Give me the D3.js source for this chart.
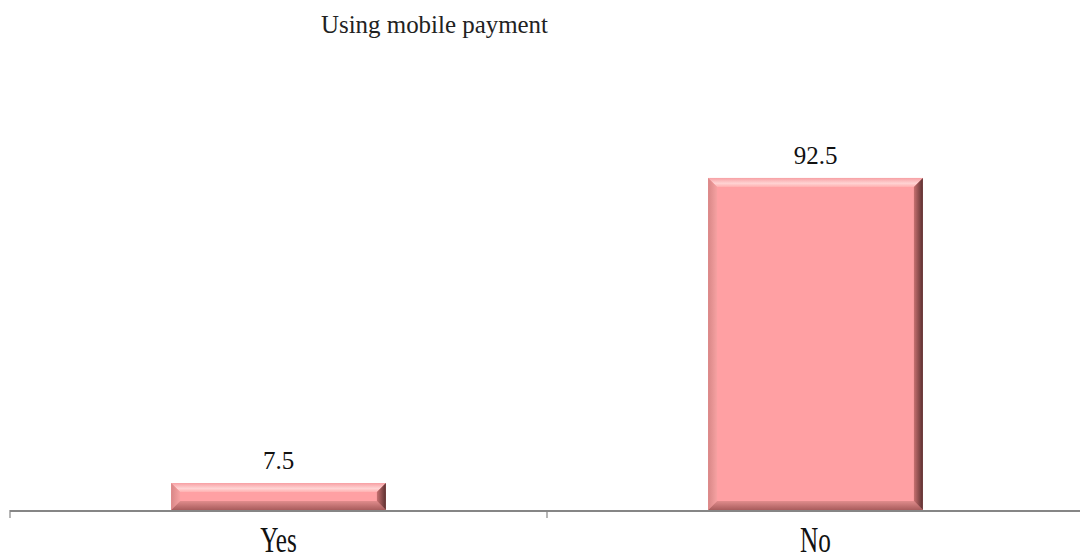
<!DOCTYPE html>
<html>
<head>
<meta charset="utf-8">
<script src="https://cdn.jsdelivr.net/npm/d3@7"></script>
<style>
  body { margin: 0; background: #fff; }
  .title { font-family: "Liberation Serif", "Times New Roman", serif; font-size: 25px; fill: #222; }
  .val { font-family: "Liberation Serif", "Times New Roman", serif; font-size: 25px; fill: #111; }
  .cat { font-family: "Liberation Serif", "Times New Roman", serif; font-size: 35px; fill: #111; }
</style>
</head>
<body>
<svg id="chart" width="1080" height="560"></svg>
<script>
const categories = ["Yes", "No"];
const values = [7.5, 92.5];
const titleText = "Using mobile payment";

const svg = d3.select("#chart");
const baseY = 510;

const x = d3.scaleBand().domain(categories).range([10, 1084]).padding(0);
const y = d3.scaleLinear().domain([0, 100]).range([baseY, 151]);
const barW = x.bandwidth() * 0.4;
const bev = 9;

// gradients
const defs = svg.append("defs");
const gTop = defs.append("linearGradient").attr("id", "gTop").attr("x1", 0).attr("y1", 0).attr("x2", 0).attr("y2", 1);
gTop.append("stop").attr("offset", 0).attr("stop-color", "#f7a0a4");
gTop.append("stop").attr("offset", 0.6).attr("stop-color", "#ffd3d3");
gTop.append("stop").attr("offset", 1).attr("stop-color", "#ffb0b0");
const gRight = defs.append("linearGradient").attr("id", "gRight").attr("x1", 0).attr("y1", 0).attr("x2", 1).attr("y2", 0);
gRight.append("stop").attr("offset", 0).attr("stop-color", "#c77070");
gRight.append("stop").attr("offset", 1).attr("stop-color", "#5b3030");
const gLeft = defs.append("linearGradient").attr("id", "gLeft").attr("x1", 0).attr("y1", 0).attr("x2", 1).attr("y2", 0);
gLeft.append("stop").attr("offset", 0).attr("stop-color", "#d88686");
gLeft.append("stop").attr("offset", 1).attr("stop-color", "#f6a2a2");
const gBot = defs.append("linearGradient").attr("id", "gBot").attr("x1", 0).attr("y1", 0).attr("x2", 0).attr("y2", 1);
gBot.append("stop").attr("offset", 0).attr("stop-color", "#e08c8c");
gBot.append("stop").attr("offset", 1).attr("stop-color", "#a85c5c");

// title
svg.append("text").attr("class", "title")
  .attr("x", 321).attr("y", 33)
  .attr("textLength", 227).attr("lengthAdjust", "spacingAndGlyphs")
  .text(titleText);

const data = categories.map((c, i) => ({ cat: c, value: values[i] }));

const bars = svg.append("g").selectAll("g").data(data).join("g");
bars.each(function (d) {
  const g = d3.select(this);
  const x0 = x(d.cat) + (x.bandwidth() - barW) / 2;
  const x1 = x0 + barW;
  const y0 = y(d.value);
  const y1 = baseY;
  const b = Math.min(bev, (y1 - y0) / 2.5);
  g.append("rect").attr("x", x0).attr("y", y0).attr("width", barW).attr("height", y1 - y0).attr("fill", "#ffa0a3");
  g.append("path").attr("fill", "url(#gTop)")
    .attr("d", `M${x0},${y0}L${x1},${y0}L${x1 - b},${y0 + b}L${x0 + b},${y0 + b}Z`);
  g.append("path").attr("fill", "url(#gLeft)")
    .attr("d", `M${x0},${y0}L${x0 + b},${y0 + b}L${x0 + b},${y1 - b}L${x0},${y1}Z`);
  g.append("path").attr("fill", "url(#gBot)")
    .attr("d", `M${x0},${y1}L${x0 + b},${y1 - b}L${x1 - b},${y1 - b}L${x1},${y1}Z`);
  g.append("path").attr("fill", "url(#gRight)")
    .attr("d", `M${x1},${y0}L${x1},${y1}L${x1 - b},${y1 - b}L${x1 - b},${y0 + b}Z`);
});

// value labels
svg.append("g").selectAll("text").data(data).join("text")
  .attr("class", "val")
  .attr("x", d => x(d.cat) + x.bandwidth() / 2)
  .attr("y", d => y(d.value) - 14)
  .attr("text-anchor", "middle")
  .text(d => d.value);

// axis
const axis = svg.append("g");
axis.append("line").attr("x1", 10).attr("x2", 1080).attr("y1", baseY + 1).attr("y2", baseY + 1)
  .attr("stroke", "#868686").attr("stroke-width", 2);
const tickXs = [x(categories[0]), x(categories[1])];
axis.selectAll("line.tick").data(tickXs).join("line").attr("class", "tick")
  .attr("x1", d => d).attr("x2", d => d).attr("y1", baseY).attr("y2", baseY + 8)
  .attr("stroke", "#868686").attr("stroke-width", 1.2);

svg.append("g").selectAll("text").data(categories).join("text")
  .attr("class", "cat")
  .attr("transform", d => `translate(${x(d) + x.bandwidth() / 2},552) scale(0.72,1)`)
  .attr("text-anchor", "middle")
  .text(d => d);
</script>
</body>
</html>
